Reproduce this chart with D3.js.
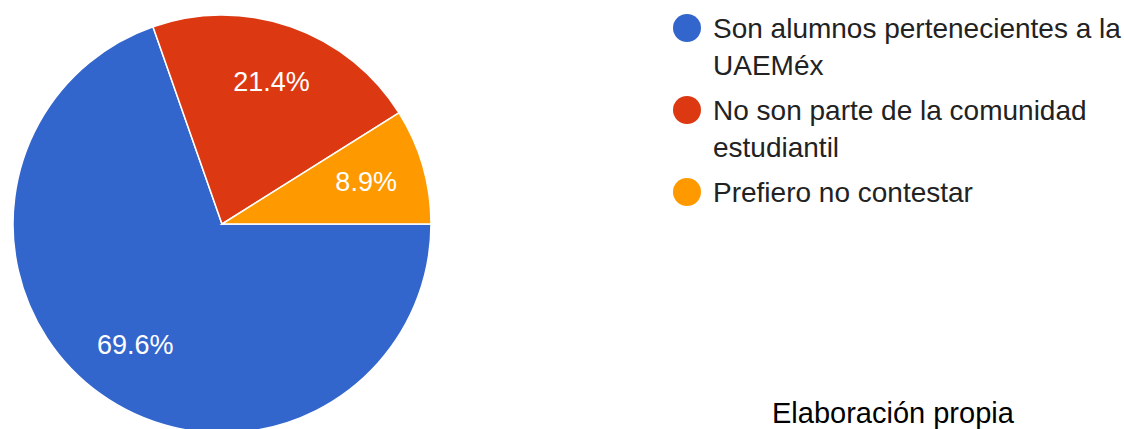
<!DOCTYPE html>
<html>
<head>
<meta charset="utf-8">
<script src="https://cdn.jsdelivr.net/npm/d3@7"></script>
<style>
  body { margin: 0; background: #fff; }
  text { font-family: Arial, "Liberation Sans", sans-serif; }
</style>
</head>
<body>
<div id="chart"></div>
<script>
// Respuestas (n = 56)
const categories = [
  "Son alumnos pertenecientes a la UAEMéx",
  "No son parte de la comunidad estudiantil",
  "Prefiero no contestar"
];
const counts = [39, 12, 5];
const colors = ["#3366cc", "#dc3912", "#ff9900"];
const source = "Elaboración propia";

const width = 1124, height = 429;
const pieChart = { cx: 222, cy: 224, radius: 209, labelRadius: 150 };

const svg = d3.select("#chart")
  .append("svg")
  .attr("width", width)
  .attr("height", height);

const data = categories.map((c, i) => ({ category: c, value: counts[i] }));
const total = d3.sum(counts);

// start at 3 o'clock, clockwise
const pie = d3.pie()
  .value(d => d.value)
  .sort(null)
  .startAngle(Math.PI / 2)
  .endAngle(Math.PI / 2 + 2 * Math.PI);

const arc = d3.arc().innerRadius(0).outerRadius(pieChart.radius);
const labelArc = d3.arc().innerRadius(pieChart.labelRadius).outerRadius(pieChart.labelRadius);

const gPie = svg.append("g")
  .attr("transform", `translate(${pieChart.cx},${pieChart.cy})`);

gPie.selectAll("path")
  .data(pie(data))
  .enter()
  .append("path")
  .attr("d", arc)
  .attr("fill", (d, i) => colors[i])
  .attr("stroke", "white")
  .style("stroke-width", "1.5px");

gPie.selectAll(".slice-label")
  .data(pie(data))
  .enter()
  .append("text")
  .attr("class", "slice-label")
  .attr("transform", d => `translate(${labelArc.centroid(d)})`)
  .attr("text-anchor", "middle")
  .attr("dy", "0.3em")
  .attr("font-size", "27px")
  .attr("fill", "white")
  .text(d => d3.format(".1f")(d.data.value / total * 100) + "%");

// Legend
const legendX = 687, textX = 713, maxW = 412, lineH = 37, rowGap = 8;
let y = 38;
data.forEach((d, i) => {
  const g = svg.append("g").attr("class", "legend");
  const t = g.append("text")
    .attr("x", textX)
    .attr("y", y)
    .attr("font-size", "28px")
    .attr("fill", "#222");
  // wrap words
  const words = d.category.split(" ");
  let line = [];
  let tspan = t.append("tspan").attr("x", textX).attr("y", y);
  let nLines = 1;
  words.forEach(w => {
    line.push(w);
    tspan.text(line.join(" "));
    if (tspan.node().getComputedTextLength() > maxW && line.length > 1) {
      line.pop();
      tspan.text(line.join(" "));
      line = [w];
      tspan = t.append("tspan").attr("x", textX).attr("y", y + nLines * lineH).text(w);
      nLines++;
    }
  });
  g.append("circle")
    .attr("cx", legendX)
    .attr("cy", y - 10)
    .attr("r", 14)
    .attr("fill", colors[i]);
  y += nLines * lineH + rowGap;
});

// Source note
svg.append("text")
  .attr("x", 772)
  .attr("y", 423)
  .attr("font-size", "29px")
  .attr("fill", "#000")
  .text(source);
</script>
</body>
</html>
